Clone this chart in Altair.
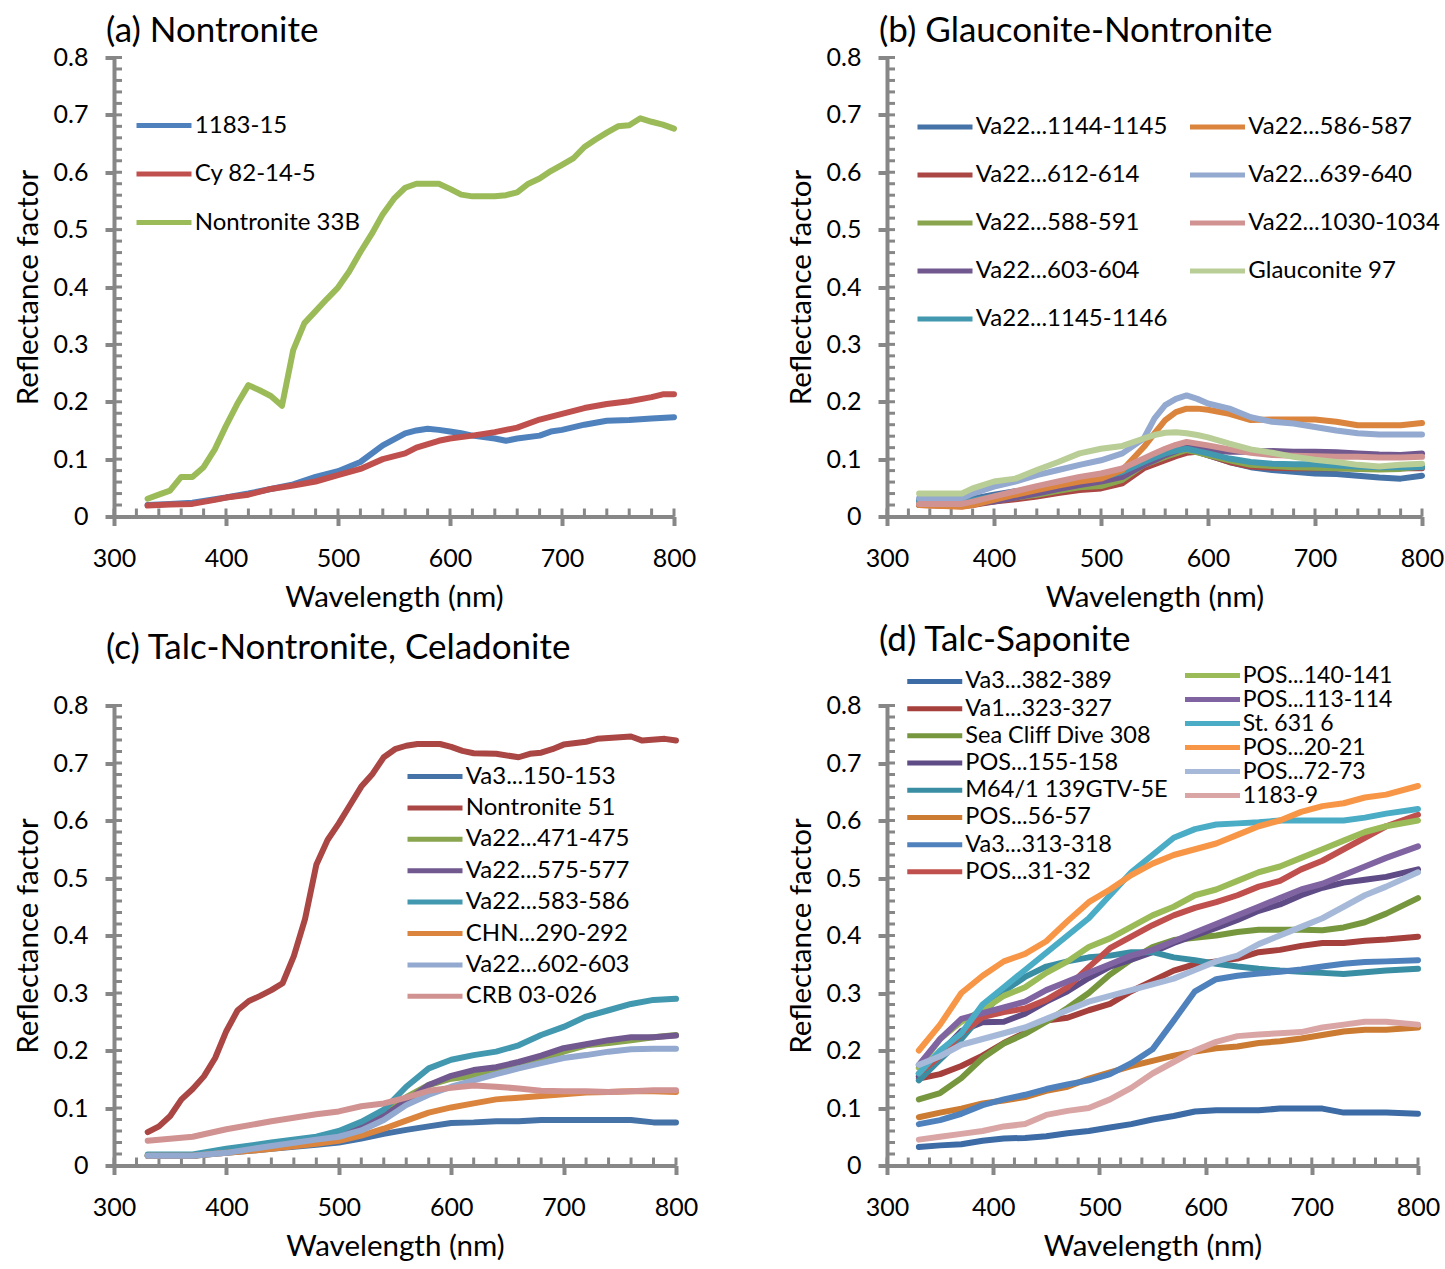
import altair as alt
import pandas as pd

FONT = "Lato"
GREY = "#878787"

# ---------------- axis tick positions ----------------
X_MAJOR = [300, 400, 500, 600, 700, 800]
X_MINOR = list(range(300, 801, 20))
Y_MAJOR = [0, 0.1, 0.2, 0.3, 0.4, 0.5, 0.6, 0.7, 0.8]
Y_MINOR = [round(i * 0.02, 2) for i in range(41)]

# ---------------- panel (a) Nontronite ----------------
A_NAMES = ["1183-15", "Cy 82-14-5", "Nontronite 33B"]
A_COLORS = ["#4F81BD", "#C0504D", "#9BBB59"]
A_1183_15_WL = [330, 350, 370, 400, 420, 440, 460, 480, 500, 520, 540, 560, 570, 580, 590,
                600, 610, 620, 640, 650, 660, 680, 690, 700, 720, 740, 760, 780, 800]
A_1183_15 = [0.02, 0.022, 0.024, 0.033, 0.04, 0.048, 0.056, 0.069, 0.079, 0.095, 0.124, 0.145,
             0.150, 0.153, 0.151, 0.148, 0.145, 0.141, 0.136, 0.132, 0.136, 0.141, 0.148, 0.151,
             0.16, 0.167, 0.168, 0.171, 0.173]
A_CY_WL = [330, 350, 370, 390, 400, 420, 440, 460, 480, 500, 520, 540, 560, 570, 590, 600, 620,
           640, 660, 680, 700, 720, 740, 760, 780, 790, 800]
A_CY = [0.019, 0.021, 0.022, 0.029, 0.033, 0.038, 0.048, 0.054, 0.061, 0.072, 0.083, 0.1, 0.11,
        0.12, 0.132, 0.136, 0.141, 0.147, 0.155, 0.169, 0.179, 0.189, 0.196, 0.201, 0.208, 0.213,
        0.213]
A_N33B_WL = list(range(330, 801, 10))
A_N33B = [0.031, 0.038, 0.045, 0.069, 0.069, 0.086, 0.117, 0.158, 0.196, 0.229, 0.22, 0.21,
          0.193, 0.29, 0.337, 0.358, 0.379, 0.399, 0.427, 0.461, 0.492, 0.527, 0.554, 0.573,
          0.580, 0.580, 0.580, 0.571, 0.561, 0.558, 0.558, 0.558, 0.560, 0.565, 0.58, 0.589,
          0.602, 0.613, 0.624, 0.644, 0.657, 0.669, 0.680, 0.682, 0.694, 0.688, 0.683, 0.676]

# ---------------- panel (b) Glauconite-Nontronite ----------------
B_WL = [330, 370, 380, 400, 420, 440, 460, 480, 500, 520, 540, 550, 560, 570, 580, 590, 600,
        620, 640, 660, 680, 700, 720, 740, 760, 780, 800]
B_1144 = [0.029, 0.028, 0.031, 0.038, 0.044, 0.049, 0.057, 0.064, 0.069, 0.081, 0.098, 0.105,
          0.111, 0.115, 0.118, 0.113, 0.107, 0.095, 0.086, 0.081, 0.078, 0.075, 0.074, 0.071,
          0.068, 0.066, 0.071]
B_612 = [0.02, 0.018, 0.02, 0.026, 0.03, 0.035, 0.041, 0.046, 0.049, 0.058, 0.084, 0.091, 0.098,
         0.105, 0.111, 0.113, 0.107, 0.095, 0.087, 0.085, 0.084, 0.084, 0.084, 0.084, 0.084,
         0.084, 0.084]
B_588 = [0.022, 0.02, 0.022, 0.028, 0.033, 0.038, 0.045, 0.051, 0.053, 0.064, 0.09, 0.097, 0.104,
         0.11, 0.116, 0.112, 0.107, 0.098, 0.09, 0.088, 0.086, 0.085, 0.084, 0.083, 0.082, 0.083,
         0.087]
B_603 = [0.02, 0.02, 0.022, 0.026, 0.033, 0.040, 0.048, 0.055, 0.061, 0.069, 0.09, 0.098, 0.107,
         0.114, 0.121, 0.118, 0.116, 0.113, 0.113, 0.114, 0.113, 0.113, 0.112, 0.11, 0.108,
         0.107, 0.11]
B_1145 = [0.026, 0.024, 0.028, 0.035, 0.042, 0.049, 0.057, 0.064, 0.068, 0.078, 0.095, 0.103,
          0.11, 0.115, 0.118, 0.114, 0.11, 0.101, 0.095, 0.092, 0.091, 0.091, 0.089, 0.087,
          0.086, 0.086, 0.086]
B_586 = [0.02, 0.017, 0.02, 0.029, 0.038, 0.046, 0.054, 0.061, 0.066, 0.081, 0.121, 0.145,
         0.168, 0.182, 0.188, 0.188, 0.186, 0.179, 0.168, 0.169, 0.169, 0.169, 0.165, 0.159,
         0.159, 0.159, 0.163]
B_639 = [0.032, 0.032, 0.04, 0.052, 0.061, 0.072, 0.081, 0.09, 0.098, 0.11, 0.136, 0.171, 0.194,
         0.205, 0.211, 0.205, 0.197, 0.188, 0.173, 0.165, 0.162, 0.156, 0.150, 0.145, 0.143,
         0.143, 0.143]
B_1030 = [0.022, 0.022, 0.026, 0.035, 0.044, 0.053, 0.061, 0.069, 0.075, 0.084, 0.101, 0.11,
          0.118, 0.125, 0.13, 0.127, 0.124, 0.117, 0.111, 0.107, 0.106, 0.105, 0.104, 0.104,
          0.103, 0.103, 0.104]
B_GLAUC = [0.04, 0.04, 0.049, 0.061, 0.066, 0.081, 0.095, 0.11, 0.118, 0.123, 0.136, 0.142,
           0.146, 0.147, 0.145, 0.142, 0.138, 0.127, 0.117, 0.111, 0.104, 0.099, 0.095, 0.09,
           0.087, 0.09, 0.092]
# drawing order (z-order) = legend order (legend fills column by column)
B_SERIES = [("Va22...1144-1145", B_1144, "#4572A7"), ("Va22...612-614", B_612, "#AA4643"),
            ("Va22...588-591", B_588, "#89A54E"), ("Va22...603-604", B_603, "#71588F"),
            ("Va22...1145-1146", B_1145, "#4198AF"), ("Va22...586-587", B_586, "#DB843D"),
            ("Va22...639-640", B_639, "#93A9CF"), ("Va22...1030-1034", B_1030, "#D19392"),
            ("Glauconite 97", B_GLAUC, "#B9CD96")]

# ---------------- panel (c) Talc-Nontronite, Celadonite ----------------
C_N51_WL = list(range(330, 621, 10)) + [640, 660, 670, 680, 690, 700, 720, 730, 760, 770, 790, 800]
C_N51 = [0.058, 0.068, 0.086, 0.115, 0.133, 0.155, 0.187, 0.234, 0.270, 0.286,
         0.295, 0.305, 0.317, 0.364, 0.429, 0.523, 0.566, 0.595, 0.627, 0.659,
         0.681, 0.71, 0.724, 0.73, 0.733, 0.733, 0.733, 0.728, 0.721, 0.717,
         0.716, 0.71, 0.716, 0.718, 0.724, 0.732, 0.737, 0.742, 0.746, 0.739, 0.742, 0.739]
C_WL = [330, 370, 400, 440, 480, 500, 520, 540, 560, 580, 600, 620, 640, 660, 680, 700, 720,
        740, 760, 780, 800]
C_VA3 = [0.017, 0.017, 0.022, 0.029, 0.036, 0.04, 0.047, 0.055, 0.062, 0.068, 0.074, 0.075,
         0.077, 0.077, 0.079, 0.079, 0.079, 0.079, 0.079, 0.075, 0.075]
C_471 = [0.017, 0.017, 0.024, 0.034, 0.048, 0.055, 0.07, 0.09, 0.119, 0.14, 0.151, 0.156, 0.166,
         0.175, 0.184, 0.198, 0.209, 0.213, 0.218, 0.223, 0.227]
C_575 = [0.017, 0.017, 0.024, 0.034, 0.047, 0.054, 0.068, 0.086, 0.112, 0.14, 0.156, 0.166,
         0.171, 0.18, 0.191, 0.204, 0.211, 0.218, 0.223, 0.223, 0.226]
C_583 = [0.019, 0.019, 0.029, 0.04, 0.05, 0.06, 0.076, 0.097, 0.137, 0.169, 0.184, 0.192, 0.198,
         0.209, 0.227, 0.241, 0.259, 0.27, 0.281, 0.288, 0.29]
C_CHN = [0.017, 0.017, 0.022, 0.029, 0.038, 0.043, 0.052, 0.064, 0.078, 0.092, 0.101, 0.108,
         0.115, 0.118, 0.121, 0.124, 0.127, 0.128, 0.129, 0.129, 0.128]
C_602 = [0.017, 0.017, 0.022, 0.034, 0.045, 0.05, 0.061, 0.079, 0.105, 0.123, 0.137, 0.148,
         0.159, 0.169, 0.178, 0.187, 0.192, 0.198, 0.202, 0.203, 0.203]
C_CRB = [0.043, 0.05, 0.063, 0.077, 0.089, 0.094, 0.103, 0.108, 0.118, 0.13, 0.135, 0.139, 0.137,
         0.134, 0.13, 0.129, 0.129, 0.128, 0.129, 0.131, 0.131]
C_NAMES = ["Va3...150-153", "Nontronite 51", "Va22...471-475", "Va22...575-577",
           "Va22...583-586", "CHN...290-292", "Va22...602-603", "CRB 03-026"]
C_COLORS = ["#4572A7", "#AA4643", "#89A54E", "#71588F", "#4198AF", "#DB843D", "#93A9CF",
            "#D19392"]

# ---------------- panel (d) Talc-Saponite ----------------
D_WL = [330, 350, 370, 390, 410, 430, 450, 470, 490, 510, 530, 550, 570, 590, 610, 630, 650,
        670, 690, 710, 730, 750, 770, 800]
D_382 = [0.032, 0.035, 0.037, 0.043, 0.047, 0.048, 0.051, 0.056, 0.06, 0.066, 0.072, 0.08, 0.086,
         0.094, 0.096, 0.096, 0.096, 0.099, 0.099, 0.099, 0.092, 0.092, 0.092, 0.09]
D_323 = [0.151, 0.159, 0.173, 0.191, 0.213, 0.231, 0.252, 0.257, 0.27, 0.281, 0.303, 0.321,
         0.339, 0.35, 0.355, 0.36, 0.371, 0.375, 0.382, 0.387, 0.387, 0.391, 0.393, 0.398]
D_SEA = [0.115, 0.126, 0.152, 0.187, 0.212, 0.229, 0.25, 0.274, 0.3, 0.332, 0.358, 0.38, 0.392,
         0.396, 0.4, 0.406, 0.41, 0.41, 0.41, 0.409, 0.414, 0.423, 0.438, 0.465]
D_155 = [0.155, 0.195, 0.234, 0.249, 0.25, 0.264, 0.285, 0.303, 0.326, 0.346, 0.358, 0.371,
         0.387, 0.4, 0.413, 0.427, 0.443, 0.454, 0.47, 0.483, 0.492, 0.497, 0.502, 0.515]
D_M64 = [0.148, 0.184, 0.22, 0.263, 0.303, 0.328, 0.346, 0.355, 0.362, 0.365, 0.371, 0.371,
         0.362, 0.357, 0.351, 0.346, 0.342, 0.339, 0.337, 0.335, 0.333, 0.336, 0.339, 0.342]
D_56 = [0.084, 0.092, 0.099, 0.108, 0.113, 0.119, 0.13, 0.137, 0.151, 0.162, 0.173, 0.182, 0.191,
        0.198, 0.204, 0.207, 0.213, 0.216, 0.221, 0.227, 0.233, 0.236, 0.236, 0.24]
D_313 = [0.072, 0.079, 0.09, 0.105, 0.115, 0.123, 0.133, 0.141, 0.148, 0.159, 0.178, 0.202,
         0.252, 0.303, 0.324, 0.33, 0.334, 0.337, 0.341, 0.346, 0.351, 0.354, 0.355, 0.357]
D_31 = [0.16, 0.19, 0.23, 0.258, 0.267, 0.273, 0.288, 0.31, 0.345, 0.378, 0.398, 0.418, 0.435,
        0.448, 0.458, 0.47, 0.485, 0.495, 0.515, 0.53, 0.55, 0.57, 0.59, 0.61]
D_140 = [0.17, 0.22, 0.25, 0.27, 0.295, 0.31, 0.335, 0.355, 0.38, 0.395, 0.415, 0.435, 0.45,
         0.47, 0.48, 0.495, 0.51, 0.52, 0.535, 0.55, 0.565, 0.58, 0.59, 0.60]
D_113 = [0.175, 0.22, 0.255, 0.265, 0.275, 0.285, 0.305, 0.32, 0.335, 0.35, 0.365, 0.375, 0.39,
         0.405, 0.42, 0.435, 0.45, 0.465, 0.48, 0.49, 0.505, 0.52, 0.535, 0.555]
D_ST631 = [0.16, 0.20, 0.23, 0.28, 0.31, 0.34, 0.37, 0.40, 0.43, 0.47, 0.51, 0.54, 0.57, 0.585,
           0.593, 0.595, 0.597, 0.60, 0.60, 0.60, 0.60, 0.605, 0.612, 0.62]
D_20 = [0.2, 0.245, 0.30, 0.33, 0.355, 0.368, 0.39, 0.425, 0.458, 0.48, 0.505, 0.525, 0.54, 0.55,
        0.56, 0.575, 0.59, 0.60, 0.615, 0.625, 0.63, 0.64, 0.645, 0.66]
D_72 = [0.175, 0.19, 0.21, 0.22, 0.23, 0.24, 0.255, 0.27, 0.285, 0.295, 0.305, 0.315, 0.325,
        0.34, 0.355, 0.365, 0.385, 0.40, 0.415, 0.43, 0.45, 0.47, 0.485, 0.51]
D_1183_9 = [0.045, 0.05, 0.055, 0.06, 0.068, 0.072, 0.088, 0.095, 0.10, 0.115, 0.135, 0.16, 0.18,
            0.20, 0.215, 0.225, 0.228, 0.23, 0.232, 0.24, 0.245, 0.25, 0.25, 0.245]
D1_NAMES = ["Va3...382-389", "Va1...323-327", "Sea Cliff Dive 308", "POS...155-158",
            "M64/1 139GTV-5E", "POS...56-57", "Va3...313-318", "POS...31-32"]
D1_COLORS = ["#3D6BA5", "#A5403D", "#77973F", "#5F4B85", "#3A8EA4", "#CC7B33", "#4F81BD",
             "#C0504D"]
D2_NAMES = ["POS...140-141", "POS...113-114", "St. 631 6", "POS...20-21", "POS...72-73",
            "1183-9"]
D2_COLORS = ["#9BBB59", "#8064A2", "#4BACC6", "#F79646", "#A7B9D9", "#D9A6A5"]


def frame(series):
    rows = []
    for name, wl, vals in series:
        assert len(wl) == len(vals), name
        for w, v in zip(wl, vals):
            rows.append({"series": name, "wl": w, "r": v})
    return pd.DataFrame(rows)


def enc():
    x = alt.X("wl:Q", scale=alt.Scale(domain=[300, 800], nice=False, zero=False),
              axis=alt.Axis(values=X_MAJOR, title="Wavelength (nm)", format="d",
                            labelFlush=False))
    y = alt.Y("r:Q", scale=alt.Scale(domain=[0, 0.8], nice=False, zero=True),
              axis=alt.Axis(values=Y_MAJOR, title="Reflectance factor", labelFlush=False,
                            labelExpr="datum.value == 0 ? '0' : format(datum.value, '.1f')"))
    return x, y


def minor(h):
    x, y = enc()
    ym = alt.Chart(pd.DataFrame({"r": Y_MINOR})).mark_rule(color=GREY, strokeWidth=3).encode(
        y=y, x=alt.value(0), x2=alt.value(8))
    xm = alt.Chart(pd.DataFrame({"wl": X_MINOR})).mark_rule(color=GREY, strokeWidth=3).encode(
        x=x, y=alt.value(h), y2=alt.value(h - 8))
    return [ym, xm]


def leg(lx, ly, rp, cols=1, cp=0, size=24):
    # long flat line symbol drawn by a custom path
    return alt.Legend(orient="none", legendX=lx, legendY=ly, title=None,
                      symbolType="M-5.5,0H5.5", symbolSize=100, symbolOffset=22.5,
                      symbolStrokeWidth=5, labelFont=FONT, labelFontSize=size,
                      labelColor="black", labelLimit=600, rowPadding=rp, columns=cols,
                      columnPadding=cp, labelOffset=18.8, padding=0)


def lines(df, names, colors, legend):
    x, y = enc()
    return alt.Chart(df).mark_line(strokeWidth=6, strokeCap="round", strokeJoin="round").encode(
        x=x, y=y,
        color=alt.Color("series:N", scale=alt.Scale(domain=names, range=colors), legend=legend))


def ttl(text, off):
    return alt.TitleParams(text, anchor="start", frame="group", dx=-8, font=FONT, fontSize=35,
                           fontWeight="normal", color="black", offset=off)


# panel a
dfa = frame([("1183-15", A_1183_15_WL, A_1183_15), ("Cy 82-14-5", A_CY_WL, A_CY),
             ("Nontronite 33B", A_N33B_WL, A_N33B)])
pa = alt.layer(*minor(459), lines(dfa, A_NAMES, A_COLORS, leg(15.5, 56, 24.5))).properties(
    width=560, height=459, title=ttl("(a) Nontronite", -3))

# panel b
dfb = frame([(n, B_WL, v) for n, v, c in B_SERIES])
pb = alt.layer(*minor(459), lines(dfb, [s[0] for s in B_SERIES], [s[2] for s in B_SERIES],
                                   leg(23.5, 57.4, 24, cols=2, cp=12.5))).properties(
    width=535, height=459, title=ttl("(b) Glauconite-Nontronite", -3))

# panel c
dfc = frame([("Va3...150-153", C_WL, C_VA3), ("Nontronite 51", C_N51_WL, C_N51),
             ("Va22...471-475", C_WL, C_471), ("Va22...575-577", C_WL, C_575),
             ("Va22...583-586", C_WL, C_583), ("CHN...290-292", C_WL, C_CHN),
             ("Va22...602-603", C_WL, C_602), ("CRB 03-026", C_WL, C_CRB)])
pc = alt.layer(*minor(460), lines(dfc, C_NAMES, C_COLORS, leg(286.5, 59, 7.4))).properties(
    width=562, height=460, title=ttl("(c) Talc-Nontronite, Celadonite", 28))

# panel d
dfd1 = frame([(n, D_WL, v) for n, v in zip(D1_NAMES, [D_382, D_323, D_SEA, D_155, D_M64, D_56,
                                                      D_313, D_31])])
dfd2 = frame([(n, D_WL, v) for n, v in zip(D2_NAMES, [D_140, D_113, D_ST631, D_20, D_72,
                                                      D_1183_9])])
pd_ = alt.layer(*minor(460),
                lines(dfd1, D1_NAMES, D1_COLORS, leg(13.5, -35.8, 2.2, size=23.5)),
                lines(dfd2, D2_NAMES, D2_COLORS, leg(291.5, -41.5, 0, size=23))
                ).resolve_scale(color="independent").properties(
    width=531, height=460, title=ttl("(d) Talc-Saponite", 6.3))

chart = alt.concat(pa, pb, pc, pd_, columns=2, spacing={"row": 189, "column": 211},
                   bounds="flush").resolve_scale(color="independent").properties(
    padding={"left": 13, "top": 13.5, "right": 0, "bottom": 0}, background="white"
).configure_view(stroke=None).configure_axis(
    domainColor=GREY, domainWidth=4, tickColor=GREY, tickWidth=4, tickSize=9,
    labelFont=FONT, labelFontSize=25, labelColor="black",
    titleFont=FONT, titleFontSize=29.5, titleFontWeight="normal", titleColor="black",
    grid=False
).configure_axisX(labelPadding=21, titlePadding=12).configure_axisY(labelPadding=17,
                                                                      titlePadding=10)

chart.save("out.html", embed_options={"renderer": "svg", "actions": False})
